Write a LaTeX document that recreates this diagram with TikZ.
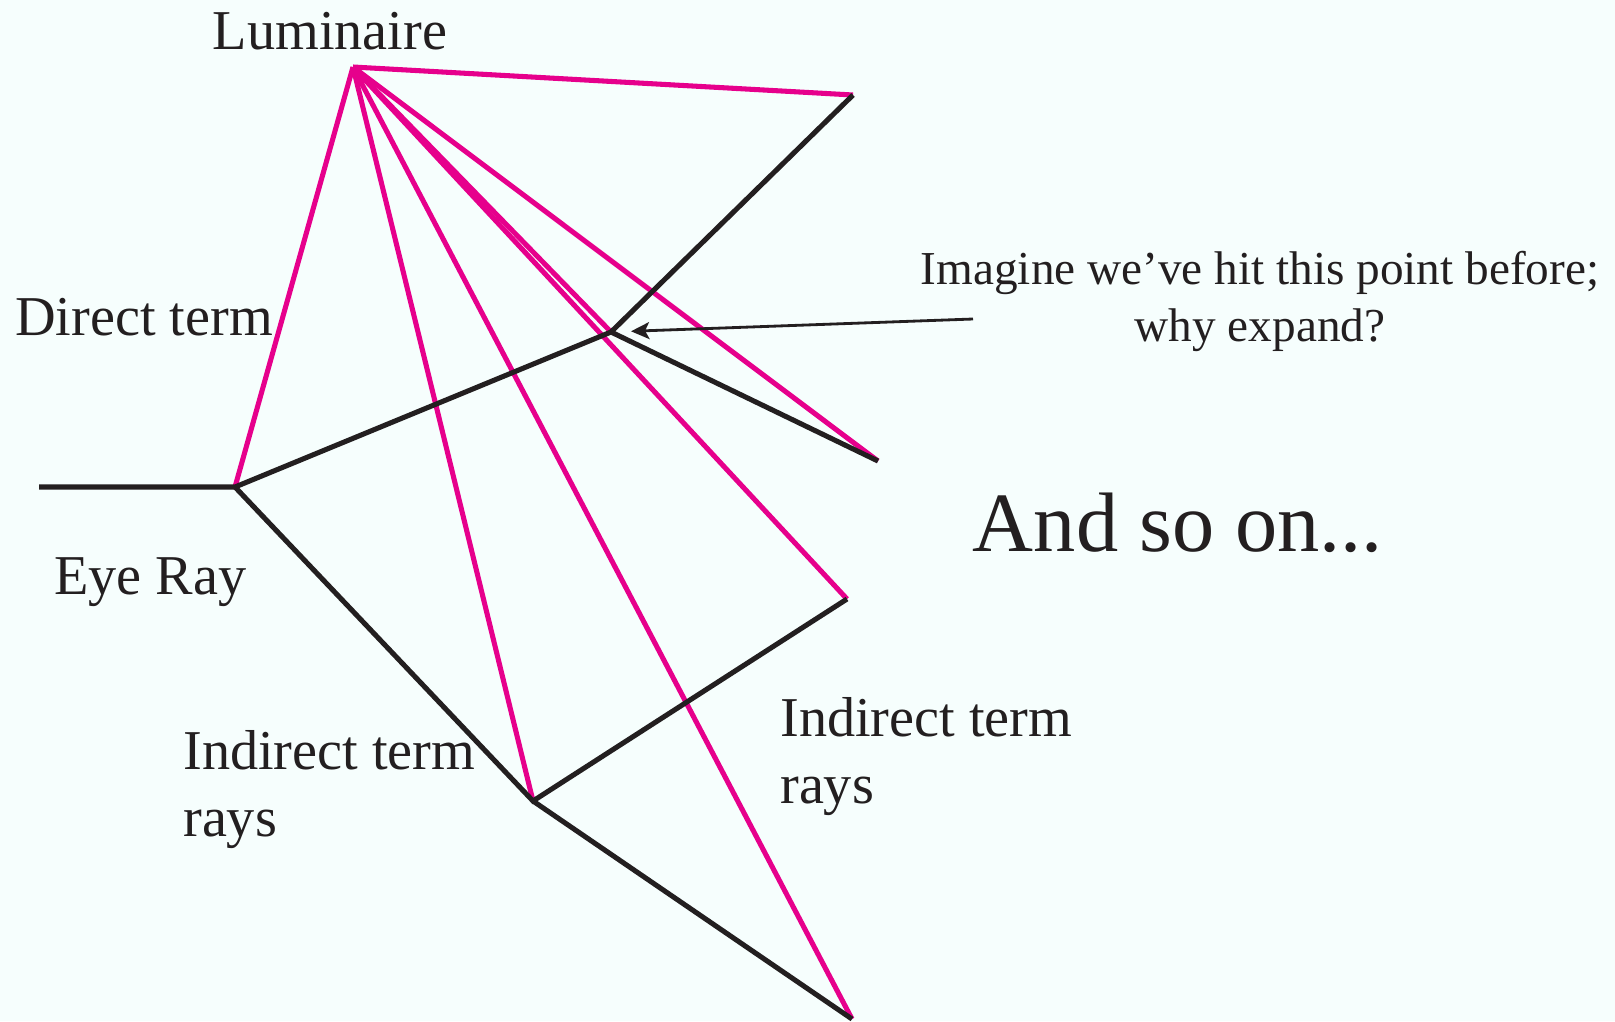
\documentclass[tikz,border=0pt]{standalone}
\usepackage{fontspec}
\setmainfont{Liberation Serif}
\usepackage{xcolor}
\usepackage{tikz}
\usetikzlibrary{arrows.meta,positioning}

\definecolor{bgpaper}{RGB}{246,254,253}
\definecolor{raypink}{RGB}{230,0,140}
\definecolor{rayblack}{RGB}{35,31,32}

\begin{document}
\begin{tikzpicture}[
  x=0.025cm, y=-0.025cm,
  lbl/.style={inner sep=0pt, text=rayblack, font=\fontsize{40}{47}\selectfont},
  note/.style={lbl, align=center, font=\fontsize{33.6}{40.5}\selectfont},
  big/.style={lbl, font=\fontsize{60}{70}\selectfont},
  shadow/.style={draw=raypink, line width=3.6pt},
  bounce/.style={draw=rayblack, line width=3.6pt},
  arr/.style={draw=rayblack, line width=2pt,
              -{Stealth[length=13pt, width=12pt, inset=3pt]}, shorten >=0.5cm}
]
\path[use as bounding box, fill=bgpaper] (0,0) rectangle (1615,1021);

% ray end points
\coordinate (lum) at (353,67);
\coordinate (eye) at (39,487);
\coordinate (hit1) at (235,487);
\coordinate (hit2) at (611,332);
\coordinate (hit3) at (533,801);
\coordinate (out1) at (853,95);
\coordinate (out2) at (878,461);
\coordinate (out3) at (847,599);
\coordinate (out4) at (852,1019);
\coordinate (tail) at (973,319);

% shadow rays
\foreach \t in {out1,hit1,hit2,hit3,out2,out3,out4}
  \draw[shadow] (lum) -- (\t);

% eye and bounce rays
\draw[bounce] (eye) -- (hit1) -- (hit2) -- (out1);
\draw[bounce] (hit2) -- (out2);
\draw[bounce] (hit1) -- (hit3) -- (out3);
\draw[bounce] (hit3) -- (out4);

\draw[arr] (tail) -- (hit2);

\node[lbl, anchor=base] (lumtxt) at (330,49) {Luminaire};
\node[lbl, anchor=base west] (direct) at (15,335) {Direct term};
\node[lbl, anchor=base west] (eyetxt) at (54,594) {Eye Ray};
\node[lbl, align=left, anchor=base west] (indleft) at (183,836) {Indirect term\\rays};
\node[lbl, align=left, anchor=base west] (indright) at (780,803) {Indirect term\\rays};
\node[note, anchor=base] (why) at (1260,341) {Imagine we’ve hit this point before;\\why expand?};
\node[big, anchor=base] (soon) at (1178,551) {And so on...};
\end{tikzpicture}
\end{document}
